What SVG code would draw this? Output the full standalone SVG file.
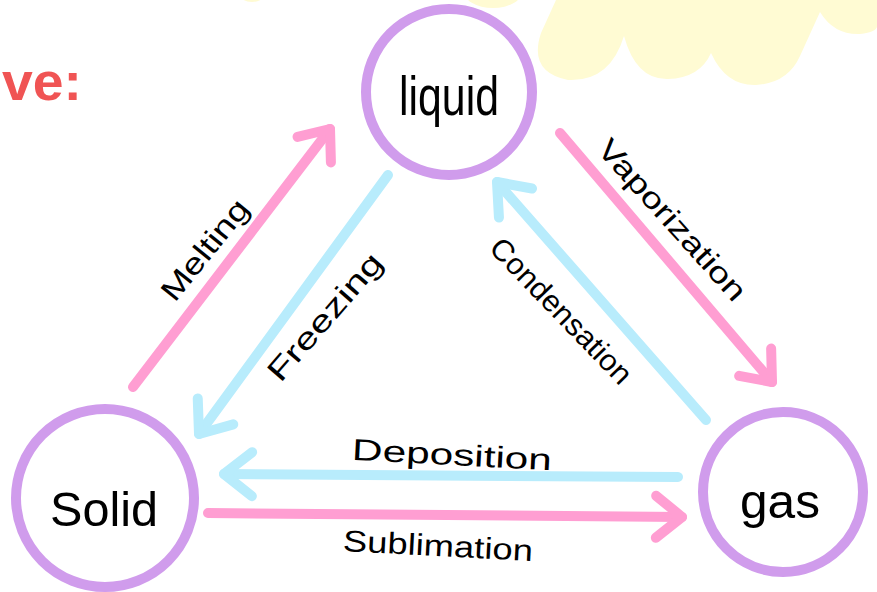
<svg xmlns="http://www.w3.org/2000/svg" width="877" height="592" viewBox="0 0 877 592">
<style>
.node{fill:#ffffff;stroke:#D09CEC;stroke-width:10}
.ntext{font-family:"Liberation Sans","DejaVu Sans",sans-serif;fill:#000;text-anchor:middle}
.lbl{font-family:"Liberation Sans","DejaVu Sans",sans-serif;fill:#000;text-anchor:middle;font-size:30px}
.pink{stroke:#FF9ED2;stroke-width:10;stroke-linecap:round;fill:none}
.blue{stroke:#B8ECFC;stroke-width:10;stroke-linecap:round;fill:none}
.cloud{fill:#FFFBD3}
</style>
<defs>
<marker id="hp" markerUnits="userSpaceOnUse" viewBox="-40 -30 50 60" markerWidth="50" markerHeight="60" refX="0" refY="0" orient="auto" overflow="visible">
<path d="M -26 -21 L 0 0 L -26 21" fill="none" stroke="#FF9ED2" stroke-width="10" stroke-linecap="round" stroke-linejoin="round"/>
</marker>
<marker id="hb" markerUnits="userSpaceOnUse" viewBox="-40 -30 50 60" markerWidth="50" markerHeight="60" refX="0" refY="0" orient="auto" overflow="visible">
<path d="M -28 -22 L 0 0 L -28 22" fill="none" stroke="#B8ECFC" stroke-width="10" stroke-linecap="round" stroke-linejoin="round"/>
</marker>
</defs>
<rect width="877" height="592" fill="#ffffff"/>
<g id="background">
<path class="cloud" d="M 556 0 L 541 33 Q 528 72 568 80 Q 610 82 624 36 Q 636 80 668 79 Q 700 78 711 53 Q 726 86 756 85 Q 788 83 800 56 L 820 12 Q 834 35 860 34 Q 877 32 877 26 L 877 0 Z"/>
<ellipse class="cloud" cx="493" cy="-10" rx="30" ry="18"/>
<ellipse class="cloud" cx="252" cy="-8" rx="14" ry="10"/>
<text x="2" y="100" font-family="Liberation Sans, DejaVu Sans, sans-serif" font-size="54" font-weight="bold" fill="#F05454" textLength="80" lengthAdjust="spacingAndGlyphs">ve:</text>
</g>
<g id="connectors">
<line id="melting" class="pink" x1="133" y1="387" x2="330" y2="129" marker-end="url(#hp)"/>
<line id="freezing" class="blue" x1="388" y1="175" x2="199" y2="434" marker-end="url(#hb)"/>
<line id="vaporization" class="pink" x1="560" y1="133" x2="772" y2="382" marker-end="url(#hp)"/>
<line id="condensation" class="blue" x1="706" y1="420" x2="497" y2="182" marker-end="url(#hb)"/>
<path id="deposition" class="blue" d="M 678 477 L 224 474" marker-end="url(#hb)"/>
<line id="sublimation" class="pink" x1="208" y1="513" x2="682" y2="517" marker-end="url(#hp)"/>
<text class="lbl" transform="translate(205,250) rotate(-51)" x="0" y="10" textLength="121" lengthAdjust="spacingAndGlyphs">Melting</text>
<text class="lbl" transform="translate(325,317) rotate(-49)" x="0" y="10" font-size="32" textLength="159" lengthAdjust="spacingAndGlyphs">Freezing</text>
<text class="lbl" transform="translate(672,220) rotate(48)" x="0" y="10" textLength="206" lengthAdjust="spacingAndGlyphs">Vaporization</text>
<text class="lbl" transform="translate(561,311) rotate(46)" x="0" y="10" textLength="190" lengthAdjust="spacingAndGlyphs">Condensation</text>
<text class="lbl" transform="translate(452,455) rotate(3)" x="0" y="10" textLength="200" lengthAdjust="spacingAndGlyphs">Deposition</text>
<text class="lbl" transform="translate(438,546) rotate(3)" x="0" y="10" textLength="190" lengthAdjust="spacingAndGlyphs">Sublimation</text>
</g>
<g id="liquid">
<circle class="node" cx="449" cy="92" r="83"/>
<text class="ntext" x="449" y="115" font-size="56" textLength="100" lengthAdjust="spacingAndGlyphs">liquid</text>
</g>
<g id="solid">
<circle class="node" cx="105" cy="498" r="89"/>
<text class="ntext" x="104" y="526" font-size="48" textLength="108" lengthAdjust="spacingAndGlyphs">Solid</text>
</g>
<g id="gas">
<circle class="node" cx="783" cy="492" r="80"/>
<text class="ntext" x="780" y="518" font-size="48" textLength="80" lengthAdjust="spacingAndGlyphs">gas</text>
</g>
</svg>
